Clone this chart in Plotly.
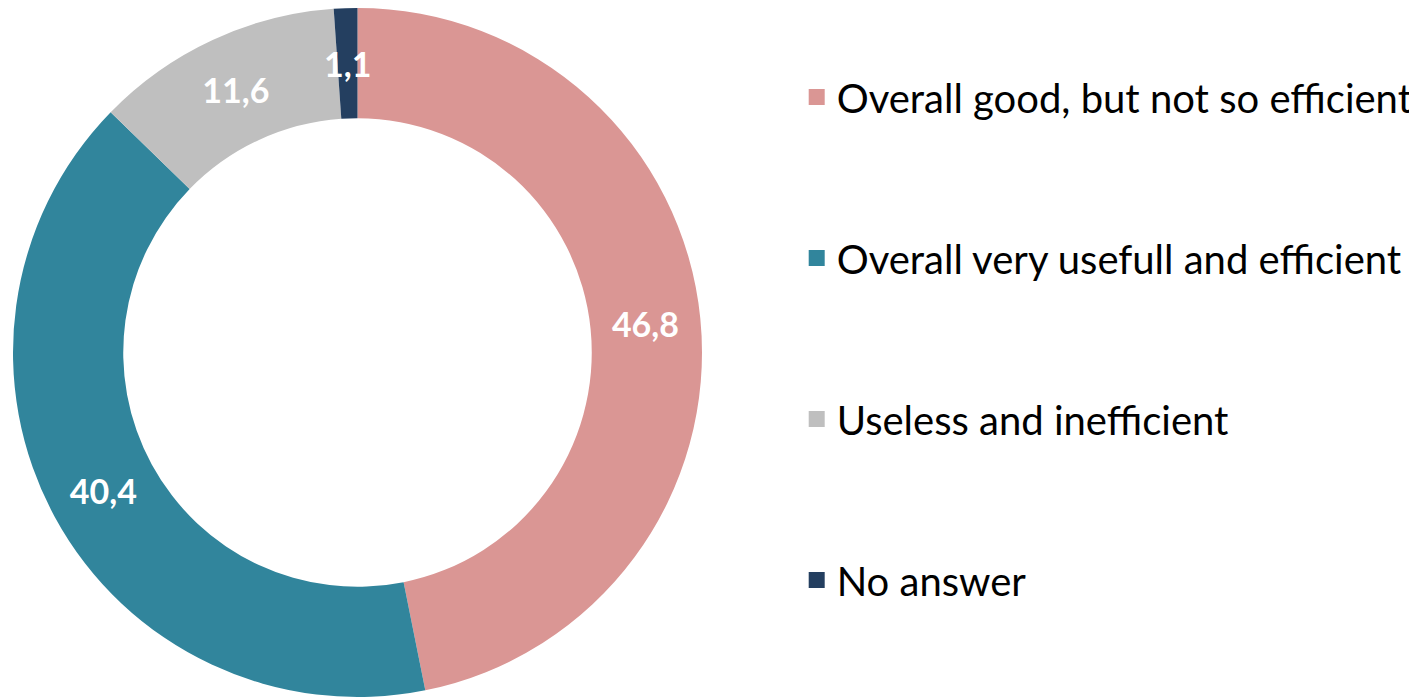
import math
import plotly.graph_objects as go

# survey answers (percent)
labels = [
    "Overall good, but not so efficient",
    "Overall very usefull and efficient",
    "Useless and inefficient",
    "No answer",
]
values = [46.8, 40.4, 11.6, 1.1]
colors = ["#DA9694", "#31859C", "#BFBFBF", "#243F60"]

W, H = 1417, 697
HOLE = 0.68
# pie placement in figure pixels
cx, cy, R = 349.5, 344.5, 344.5


def fmt(v):
    return f"{v:.1f}".replace(".", ",")


# the thin slice gets its label placed in the middle of the ring by hand
small = [v < 3 for v in values]
texts = ["" if s else fmt(v) for v, s in zip(values, small)]

fig = go.Figure()

fig.add_trace(go.Pie(
    labels=labels,
    values=values,
    hole=HOLE,
    sort=False,
    direction="clockwise",
    rotation=0,
    marker=dict(colors=colors, line=dict(width=0)),
    text=texts,
    textinfo="text",
    textposition="inside",
    insidetextorientation="horizontal",
    textfont=dict(family="Lato", size=34, color="white", weight="bold"),
    domain=dict(x=[(cx - R) / W, (cx + R) / W], y=[1 - (cy + R) / H, 1]),
    showlegend=False,
    hoverinfo="label+value",
))

total = sum(values)
cum = 0
for v, s in zip(values, small):
    if s:
        ang = math.radians((cum + v / 2) / total * 360)
        rm = R * (1 + HOLE) / 2
        fig.add_annotation(
            x=(cx + rm * math.sin(ang)) / W,
            y=1 - (cy - rm * math.cos(ang)) / H,
            xref="paper", yref="paper",
            xanchor="center", yanchor="middle",
            text=fmt(v), showarrow=False,
            font=dict(family="Lato", size=34, color="white", weight="bold"),
        )
    cum += v

# legend entries (square markers, one group each so they can be spaced out)
for lab, col in zip(labels, colors):
    fig.add_trace(go.Scatter(
        x=[None], y=[None],
        mode="markers",
        name=lab,
        legendgroup=lab,
        marker=dict(symbol="square", size=16, color=col),
        hoverinfo="skip",
    ))

fig.update_layout(
    width=W,
    height=H,
    margin=dict(l=0, r=0, t=0, b=0),
    paper_bgcolor="white",
    plot_bgcolor="white",
    uniformtext=dict(minsize=34, mode="show"),
    xaxis=dict(visible=False),
    yaxis=dict(visible=False),
    legend=dict(
        x=0.5566, y=0.919, xanchor="left", yanchor="top",
        font=dict(family="Lato", size=40, color="black"),
        tracegroupgap=106,
        itemwidth=30,
    ),
)

fig.write_html("out.html")
